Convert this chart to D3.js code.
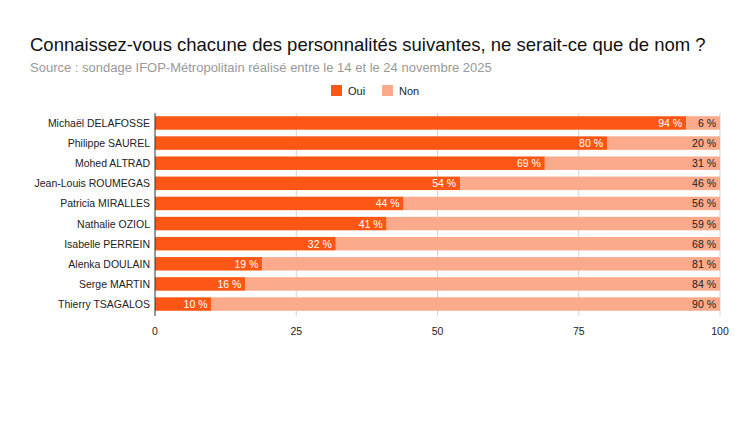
<!DOCTYPE html>
<html><head><meta charset="utf-8">
<script src="https://cdn.jsdelivr.net/npm/d3@7"></script>
<style>body{margin:0;background:#fff;font-family:"Liberation Sans",Arial,sans-serif}</style>
</head><body><div id="chart"></div>
<script>
var names = ["Michaël DELAFOSSE","Philippe SAUREL","Mohed ALTRAD","Jean-Louis ROUMEGAS","Patricia MIRALLES","Nathalie OZIOL","Isabelle PERREIN","Alenka DOULAIN","Serge MARTIN","Thierry TSAGALOS"];
var oui = [94,80,69,54,44,41,32,19,16,10];
var non = [6,20,31,46,56,59,68,81,84,90];
var ticks = [0,25,50,75,100];

var W = 750, H = 421;
var svg = d3.select("#chart").append("svg").attr("width", W).attr("height", H);

svg.append("text").attr("x", 30).attr("y", 51).attr("font-size", 18.5).attr("fill", "#111")
    .text("Connaissez-vous chacune des personnalités suivantes, ne serait-ce que de nom ?");
svg.append("text").attr("x", 30).attr("y", 72).attr("font-size", 13).attr("fill", "#999")
    .text("Source : sondage IFOP-Métropolitain réalisé entre le 14 et le 24 novembre 2025");

// legende
var leg = [["Oui","#fe5715"],["Non","#fbab8c"]];
leg.forEach(function(l, i) {
    var lx = 331 + i * 51;
    svg.append("rect").attr("x", lx).attr("y", 85).attr("width", 11).attr("height", 11).attr("fill", l[1]);
    svg.append("text").attr("x", lx + 17).attr("y", 95).attr("font-size", 11).attr("fill", "#222").text(l[0]);
});

var x = d3.scaleLinear().domain([0,100]).range([155,720]);
var y = d3.scaleBand().domain(names).range([113,314]).paddingInner(0.33).paddingOuter(0.16);

var g = svg.append("g");
g.selectAll(".grid").data(ticks.slice(1)).enter().append("line")
    .attr("x1", d => x(d)).attr("x2", d => x(d)).attr("y1", 113).attr("y2", 316)
    .attr("stroke", "#cdd6d6").attr("stroke-width", 1);

g.selectAll(".oui").data(names).enter().append("rect")
    .attr("x", x(0)).attr("y", d => y(d)).attr("height", y.bandwidth())
    .attr("width", (d,i) => x(oui[i]) - x(0)).attr("fill", "#fe5715");
g.selectAll(".non").data(names).enter().append("rect")
    .attr("x", (d,i) => x(oui[i])).attr("y", d => y(d)).attr("height", y.bandwidth())
    .attr("width", (d,i) => x(oui[i] + non[i]) - x(oui[i])).attr("fill", "#fbab8c");

g.append("line").attr("x1", x(0)).attr("x2", x(0)).attr("y1", 113).attr("y2", 316)
    .attr("stroke", "#333").attr("stroke-width", 1);

g.selectAll(".lo").data(names).enter().append("text")
    .attr("x", (d,i) => x(oui[i]) - 4).attr("y", d => y(d) + y.bandwidth()/2 + 4)
    .attr("text-anchor", "end").attr("font-size", 10.5).attr("fill", "#fff")
    .text((d,i) => oui[i] + " %");
g.selectAll(".ln").data(names).enter().append("text")
    .attr("x", (d,i) => x(oui[i] + non[i]) - 4).attr("y", d => y(d) + y.bandwidth()/2 + 4)
    .attr("text-anchor", "end").attr("font-size", 10.5).attr("fill", "#222")
    .text((d,i) => non[i] + " %");

g.selectAll(".nm").data(names).enter().append("text")
    .attr("x", 150).attr("y", d => y(d) + y.bandwidth()/2 + 4)
    .attr("text-anchor", "end").attr("font-size", 10.5).attr("fill", "#222").text(d => d);

g.selectAll(".tk").data(ticks).enter().append("text")
    .attr("x", d => x(d)).attr("y", 335).attr("text-anchor", "middle")
    .attr("font-size", 10.5).attr("fill", "#222").text(d => d);
</script></body></html>
